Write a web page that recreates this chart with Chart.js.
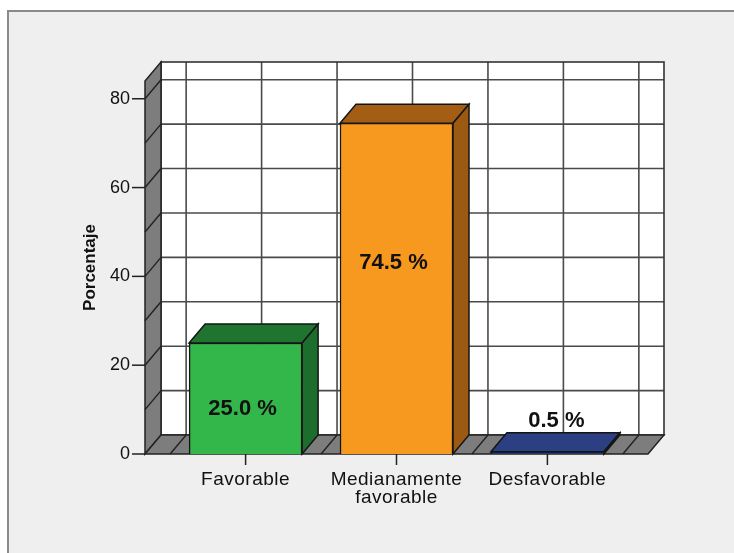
<!DOCTYPE html>
<html>
<head>
<meta charset="utf-8">
<script src="https://cdn.jsdelivr.net/npm/chart.js@4.4.1/dist/chart.umd.min.js"></script>
<style>
  html, body { margin: 0; padding: 0; background: #ffffff; width: 734px; height: 553px; overflow: hidden; }
  #panel { position: absolute; left: 7px; top: 10px; width: 740px; height: 560px; background: #efefef;
           border-left: 2px solid #8a8a8a; border-top: 2px solid #8a8a8a; }
  #wrap { position: absolute; left: 0; top: 0; width: 734px; height: 553px; }
</style>
</head>
<body>
<div id="panel"></div>
<div id="wrap"><canvas id="chart" width="734" height="553"></canvas></div>
<script>
// Categories (multi-line labels as arrays) and their percentages
const categories = [['Favorable'], ['Medianamente', 'favorable'], ['Desfavorable']];
const percentages = [25.0, 74.5, 0.5];
const yTickValues = [0, 20, 40, 60, 80];

// Face colours of each 3D bar
const frontColors = ['#33b64a', '#f7981f', '#263a7b'];
const topColors   = ['#1f7430', '#a35e14', '#2b3f82'];
const sideColors  = ['#1d6e2d', '#9c5912', '#1c2b5c'];

const FONT = "'Liberation Sans', Arial, sans-serif";
const DX = 16, DY = -19;          // depth of the 3D projection

function poly(ctx, pts, fill, stroke, lw) {
  ctx.beginPath();
  ctx.moveTo(pts[0][0], pts[0][1]);
  for (let i = 1; i < pts.length; i++) ctx.lineTo(pts[i][0], pts[i][1]);
  ctx.closePath();
  if (fill) { ctx.fillStyle = fill; ctx.fill(); }
  if (stroke) { ctx.strokeStyle = stroke; ctx.lineWidth = lw || 1.5; ctx.stroke(); }
}
function line(ctx, x1, y1, x2, y2, color, lw) {
  ctx.beginPath();
  ctx.moveTo(x1, y1); ctx.lineTo(x2, y2);
  ctx.strokeStyle = color; ctx.lineWidth = lw; ctx.stroke();
}

// Walls, floor and grid of the 3D box
const box3d = {
  id: 'box3d',
  afterLayout(chart) {
    // category labels are drawn slightly letter-spaced
    const s = chart.scales.x;
    if (!s._spaced) {
      const orig = s.drawLabels.bind(s);
      s.drawLabels = function (area) {
        this.ctx.save();
        this.ctx.letterSpacing = '0.5px';
        orig(area);
        this.ctx.restore();
      };
      s._spaced = true;
    }
  },
  beforeDatasetsDraw(chart) {
    const ctx = chart.ctx, xs = chart.scales.x, ys = chart.scales.y;
    const L = chart.chartArea.left, R = chart.chartArea.right;
    const T = ys.getPixelForValue(ys.max), B = ys.getPixelForValue(0);
    ctx.save();
    // back wall
    ctx.fillStyle = '#ffffff';
    ctx.fillRect(L + DX, T + DY, R - L, B - T);
    for (let v = 10; v < ys.max; v += 10) {
      const y = ys.getPixelForValue(v) + DY;
      line(ctx, L + DX, y, R + DX, y, '#4a4a4a', 1.6);
    }
    for (let g = -0.5; g <= 2.5; g += 0.5) {
      const x = xs.getPixelForValue(g) + DX;
      line(ctx, x, T + DY, x, B + DY, '#4a4a4a', 1.6);
    }
    ctx.strokeStyle = '#333'; ctx.lineWidth = 1.6;
    ctx.strokeRect(L + DX, T + DY, R - L, B - T);
    // left wall
    poly(ctx, [[L, T], [L + DX, T + DY], [L + DX, B + DY], [L, B]], '#7d7d7d', '#222', 1.5);
    for (let v = 10; v < ys.max; v += 10) {
      const y = ys.getPixelForValue(v);
      line(ctx, L, y, L + DX, y + DY, '#222', 1.4);
    }
    // floor
    poly(ctx, [[L, B], [L + DX, B + DY], [R + DX, B + DY], [R, B]], '#7d7d7d', '#222', 1.5);
    for (let g = -0.5; g <= 2.5; g += 0.5) {
      const x = xs.getPixelForValue(g);
      line(ctx, x, B, x + DX, B + DY, '#222', 1.4);
    }
    ctx.restore();
  },
  afterDatasetsDraw(chart, args, opts) {
    const ctx = chart.ctx, xs = chart.scales.x, ys = chart.scales.y;
    const L = chart.chartArea.left;
    const B = ys.getPixelForValue(0);
    const meta = chart.getDatasetMeta(0);
    ctx.save();
    meta.data.forEach((bar, i) => {
      const p = bar.getProps(['x', 'y', 'base', 'width'], true);
      const l = p.x - p.width / 2, r = p.x + p.width / 2;
      poly(ctx, [[l, p.y], [l + DX, p.y + DY], [r + DX, p.y + DY], [r, p.y]], topColors[i], '#151515', 1.5);
      poly(ctx, [[r, p.y], [r + DX, p.y + DY], [r + DX, p.base + DY], [r, p.base]], sideColors[i], '#151515', 1.5);
    });
    // y tick marks
    yTickValues.forEach(v => {
      const y = ys.getPixelForValue(v);
      line(ctx, L - 13, y, L, y, '#222', 1.5);
    });
    // x tick marks
    categories.forEach((c, i) => {
      const x = xs.getPixelForValue(i);
      line(ctx, x, B, x, B + 11, '#222', 1.5);
    });
    // value labels
    ctx.fillStyle = '#111';
    ctx.font = 'bold 22px ' + FONT;
    ctx.textAlign = 'center';
    meta.data.forEach((bar, i) => {
      const v = percentages[i];
      const txt = v.toFixed(1) + ' %';
      const p = bar.getProps(['x', 'y', 'base', 'width'], true);
      if (v < 5) {
        ctx.textBaseline = 'alphabetic';
        ctx.fillText(txt, p.x + DX / 2 + 1, p.y + DY - 6);
      } else {
        ctx.textBaseline = 'middle';
        ctx.fillText(txt, p.x - 3, ys.getPixelForValue(v * opts.labelLift[i]));
      }
    });
    ctx.restore();
  }
};

new Chart(document.getElementById('chart'), {
  type: 'bar',
  data: {
    datasets: [{
      data: percentages.map((v, i) => ({ x: i, y: v })),
      backgroundColor: frontColors,
      borderColor: '#151515',
      borderWidth: 1.5,
      barThickness: 113
    }]
  },
  options: {
    responsive: false,
    animation: false,
    devicePixelRatio: 1,
    layout: { padding: { left: 0, right: 86, top: 81, bottom: 0 } },
    plugins: {
      legend: { display: false },
      tooltip: { enabled: false },
      box3d: { labelLift: [0.41, 0.577, 1] }
    },
    scales: {
      x: {
        type: 'linear',
        offset: false,
        min: -2 / 3,
        max: 8 / 3,
        grid: { display: false, drawTicks: false },
        border: { display: false },
        afterBuildTicks: s => { s.ticks = categories.map((c, i) => ({ value: i })); },
        afterFit: s => { s.height = 99; },
        ticks: {
          autoSkip: false,
          maxRotation: 0,
          padding: 17,
          color: '#111',
          font: { family: FONT, size: 19, lineHeight: 0.95 },
          callback: v => categories[v]
        }
      },
      y: {
        min: 0,
        max: 84,
        grid: { display: false, drawTicks: false },
        border: { display: false },
        afterBuildTicks: s => { s.ticks = yTickValues.map(v => ({ value: v })); },
        afterFit: s => { s.width = 145; },
        ticks: {
          padding: 15,
          color: '#111',
          font: { family: FONT, size: 18 }
        },
        title: {
          display: true,
          text: 'Porcentaje',
          color: '#111',
          font: { family: FONT, size: 17, weight: 'bold' },
          padding: { top: 80, bottom: 0 }
        }
      }
    }
  },
  plugins: [box3d]
});
</script>
</body>
</html>
